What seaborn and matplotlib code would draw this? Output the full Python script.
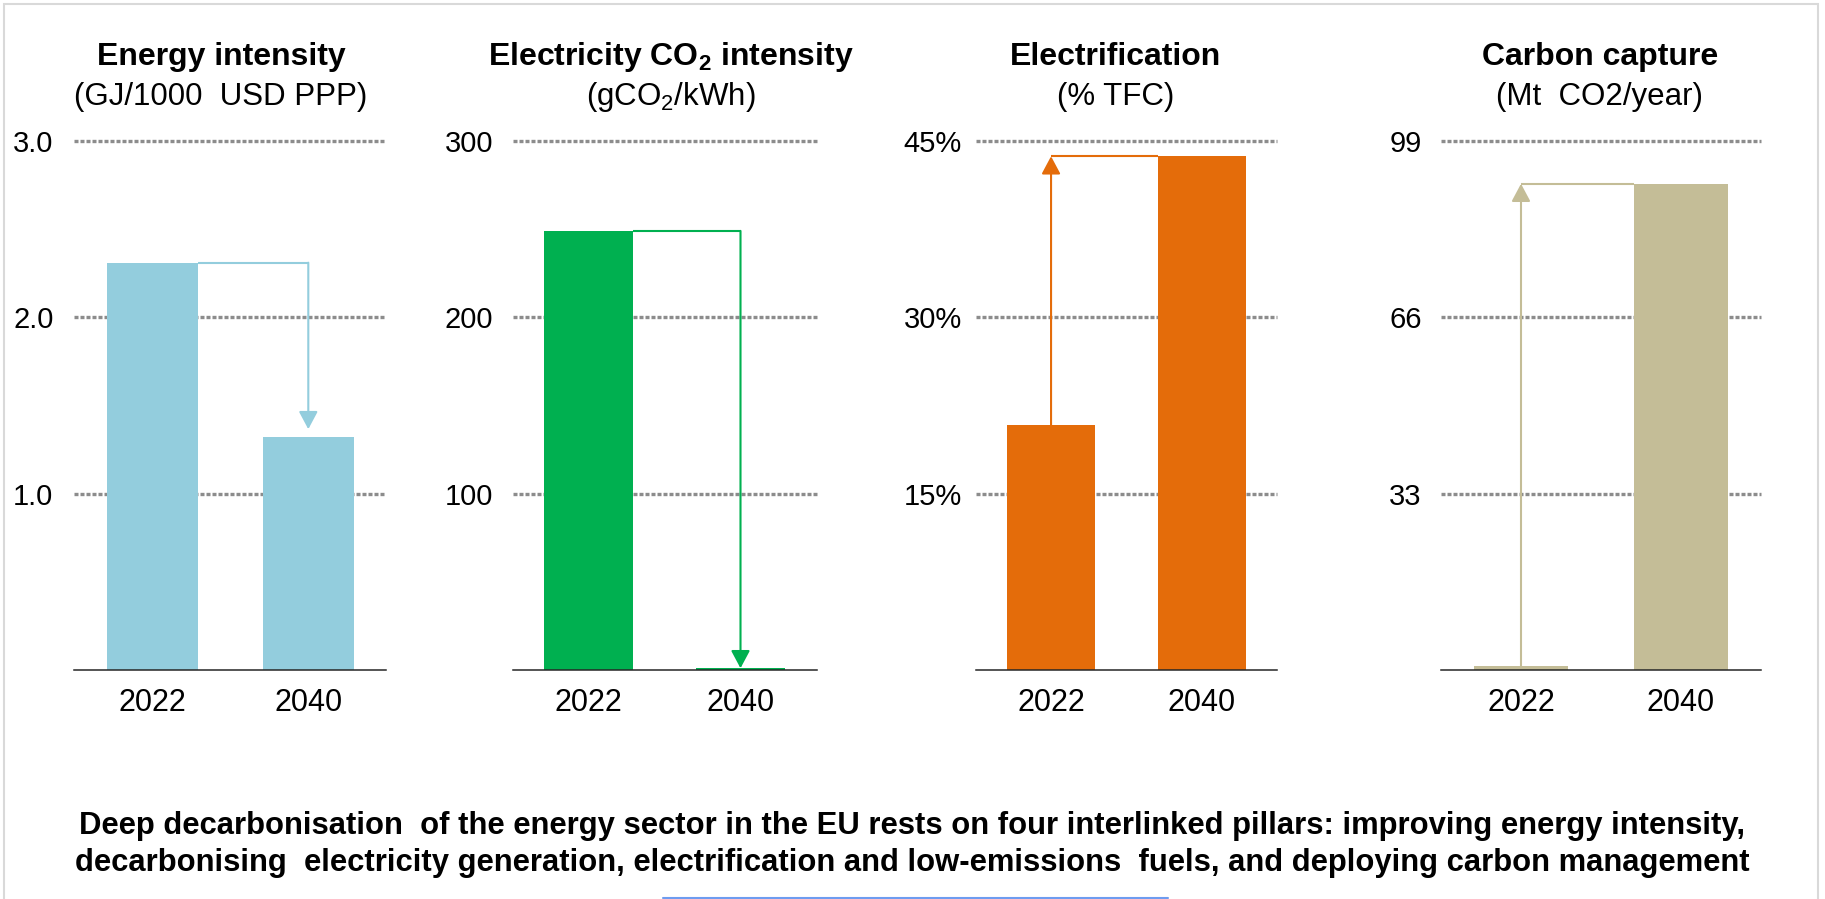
import matplotlib
matplotlib.use("Agg")
import matplotlib.pyplot as plt
import matplotlib.patches as mpatches
from matplotlib.lines import Line2D
import seaborn as sns
import pandas as pd

# ---- data -------------------------------------------------------------
years = ["2022", "2040"]
energy_intensity = [2.31, 1.32]      # GJ per 1000 USD PPP
electricity_co2 = [249, 1]           # gCO2/kWh
electrification = [20.8, 43.7]       # % of total final consumption
carbon_capture = [0.7, 91]           # Mt CO2 per year

panel_titles = ["Energy intensity",
                r"Electricity CO$_\mathbf{2}$ intensity",
                "Electrification",
                "Carbon capture"]
panel_units = ["(GJ/1000  USD PPP)",
               r"(gCO$_\mathrm{2}$/kWh)",
               "(% TFC)",
               "(Mt  CO2/year)"]
y_ticks = [[1.0, 2.0, 3.0], [100, 200, 300], [15, 30, 45], [33, 66, 99]]
y_tick_labels = [["1.0", "2.0", "3.0"], ["100", "200", "300"],
                 ["15%", "30%", "45%"], ["33", "66", "99"]]
bar_colors = ["#93CDDD", "#00B050", "#E46C0A", "#C4BD97"]
caption_lines = [
    "Deep decarbonisation  of the energy sector in the EU rests on four interlinked pillars: improving energy intensity,",
    "decarbonising  electricity generation, electrification and low-emissions  fuels, and deploying carbon management",
]

# ---- layout (pixels) --------------------------------------------------
W, H, DPI = 1825, 899, 100
axes_px = [(74.3, 312), (512.5, 304), (975.7, 301.4), (1441, 320)]  # left, width
y_top_px, y_base_px = 141, 670
ylab_pad = [15, 14, 10, 14]
title_x = [221, 671, 1116, 1600]
bar_width = 0.585
arrow_gap_pt = [5.8, 0, 0, 0]

sns.set_style("white")
plt.rcParams["font.family"] = ["Liberation Sans", "DejaVu Sans"]
plt.rcParams["mathtext.fontset"] = "custom"
plt.rcParams["mathtext.rm"] = "Liberation Sans"
plt.rcParams["mathtext.it"] = "Liberation Sans:italic"
plt.rcParams["mathtext.bf"] = "Liberation Sans:bold"

fig = plt.figure(figsize=(W / DPI, H / DPI), dpi=DPI)
fig.patch.set_facecolor("white")

series = [energy_intensity, electricity_co2, electrification, carbon_capture]

for i, vals in enumerate(series):
    left, width = axes_px[i]
    ax = fig.add_axes([left / W, 1 - y_base_px / H, width / W,
                       (y_base_px - y_top_px) / H])
    color = bar_colors[i]
    df = pd.DataFrame({"year": years, "value": vals})
    sns.barplot(data=df, x="year", y="value", ax=ax, color=color,
                saturation=1, width=bar_width, linewidth=0,
                errorbar=None, zorder=2)

    ax.set_xlim(-0.5, 1.5)
    ax.set_ylim(0, y_ticks[i][-1])
    ax.set_yticks(y_ticks[i])
    ax.set_yticklabels(y_tick_labels[i])
    ax.set_xlabel("")
    ax.set_ylabel("")
    ax.set_facecolor("none")

    ax.yaxis.grid(True, color="#8C8C8C", linewidth=2.4,
                  linestyle=(0, (1.2, 0.6)), dash_capstyle="butt")
    ax.xaxis.grid(False)
    ax.set_axisbelow(True)
    for gl in ax.get_ygridlines():
        gl.set_clip_on(False)

    for side in ["left", "right", "top"]:
        ax.spines[side].set_visible(False)
    ax.spines["bottom"].set_color("#262626")
    ax.spines["bottom"].set_linewidth(1.1)

    ax.tick_params(axis="both", length=0, colors="black")
    ax.tick_params(axis="y", pad=ylab_pad[i], labelsize=21)
    ax.tick_params(axis="x", pad=13, labelsize=22)

    # change arrow from the 2022 level to the 2040 level
    v0, v1 = vals
    hw = bar_width / 2
    head = "-|>,head_length=0.6,head_width=0.32"
    if v1 < v0:
        ax.plot([0 + hw, 1], [v0, v0], color=color, lw=1.5,
                solid_capstyle="butt", zorder=3)
        ax.annotate("", xy=(1, v1), xytext=(1, v0),
                    arrowprops=dict(arrowstyle=head, color=color, lw=1.5,
                                    shrinkA=0, shrinkB=arrow_gap_pt[i],
                                    mutation_scale=18),
                    zorder=3)
    else:
        ax.plot([0, 1 - hw], [v1, v1], color=color, lw=1.5,
                solid_capstyle="butt", zorder=3)
        ax.annotate("", xy=(0, v1), xytext=(0, v0),
                    arrowprops=dict(arrowstyle=head, color=color, lw=1.5,
                                    shrinkA=0, shrinkB=0,
                                    mutation_scale=18),
                    zorder=3)

    fig.text(title_x[i] / W, 1 - 65 / H, panel_titles[i], ha="center",
             va="baseline", fontsize=23, fontweight="bold", color="black")
    fig.text(title_x[i] / W, 1 - 105 / H, panel_units[i], ha="center",
             va="baseline", fontsize=22.5, color="black")

# caption
fig.text(912 / W, 1 - 834 / H, caption_lines[0], ha="center", va="baseline",
         fontsize=22.3, fontweight="bold", color="black")
fig.text(912 / W, 1 - 871 / H, caption_lines[1], ha="center", va="baseline",
         fontsize=22.3, fontweight="bold", color="black")

# outer frame and bottom accent line
fig.add_artist(mpatches.Rectangle((4 / W, -0.02), (1818 - 4) / W,
                                  1 - 4 / H + 0.02, transform=fig.transFigure,
                                  fill=False, edgecolor="#D9D9D9", lw=1.5))
fig.add_artist(Line2D([663 / W, 1168 / W], [1.2 / H, 1.2 / H],
                      transform=fig.transFigure, color="#6E9CF0", lw=1.5))

fig.savefig("out.png", dpi=DPI, facecolor="white")
